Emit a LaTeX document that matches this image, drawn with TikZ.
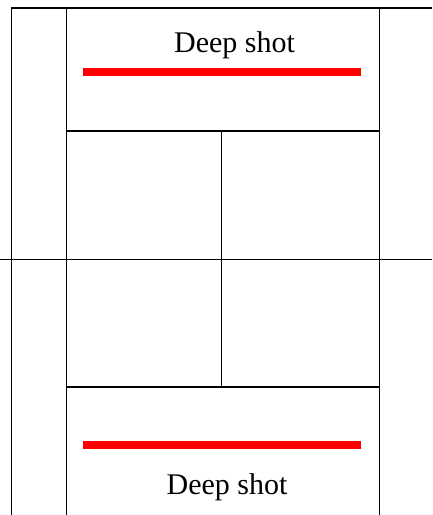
\documentclass[tikz,border=0pt]{standalone}
\usepackage{fontspec}
\setmainfont{Liberation Serif}
\begin{document}
\begin{tikzpicture}[x=1pt,y=-1pt,
  court/.style={draw=black,line width=1.8pt},
  deep/.style={draw=red,line width=7.5pt},
  lbl/.style={font=\fontsize{30}{35}\selectfont,inner sep=0pt,anchor=base}]
\useasboundingbox (0,0) rectangle (432,515);
% coordinates
\coordinate (tl) at (11.5,8);
\coordinate (tr) at (432,8);
\coordinate (bl) at (11.5,515);
\coordinate (a1) at (66.5,8);
\coordinate (a2) at (66.5,515);
\coordinate (b1) at (379.5,8);
\coordinate (b2) at (379.5,515);
\coordinate (s1l) at (66.5,131);
\coordinate (s1r) at (379.5,131);
\coordinate (s2l) at (66.5,387);
\coordinate (s2r) at (379.5,387);
\coordinate (nl) at (0,259.5);
\coordinate (nr) at (432,259.5);
\coordinate (c1) at (221.5,131);
\coordinate (c2) at (221.5,387);
\coordinate (r1l) at (83,72);
\coordinate (r1r) at (360.5,72);
\coordinate (r2l) at (83,445);
\coordinate (r2r) at (360.5,445);
% court lines
\draw[court] (bl) -- (tl) -- (tr);
\draw[court] (a1) -- (a2);
\draw[court] (b1) -- (b2);
\draw[court] (s1l) -- (s1r);
\draw[court] (s2l) -- (s2r);
\draw[court] (nl) -- (nr);
\draw[court] (c1) -- (c2);
% deep shot lines
\draw[deep] (r1l) -- (r1r);
\draw[deep] (r2l) -- (r2r);
% labels
\node[lbl] (t1) at (234.5,52.5) {Deep shot};
\node[lbl] (t2) at (227,494) {Deep shot};
\end{tikzpicture}
\end{document}
